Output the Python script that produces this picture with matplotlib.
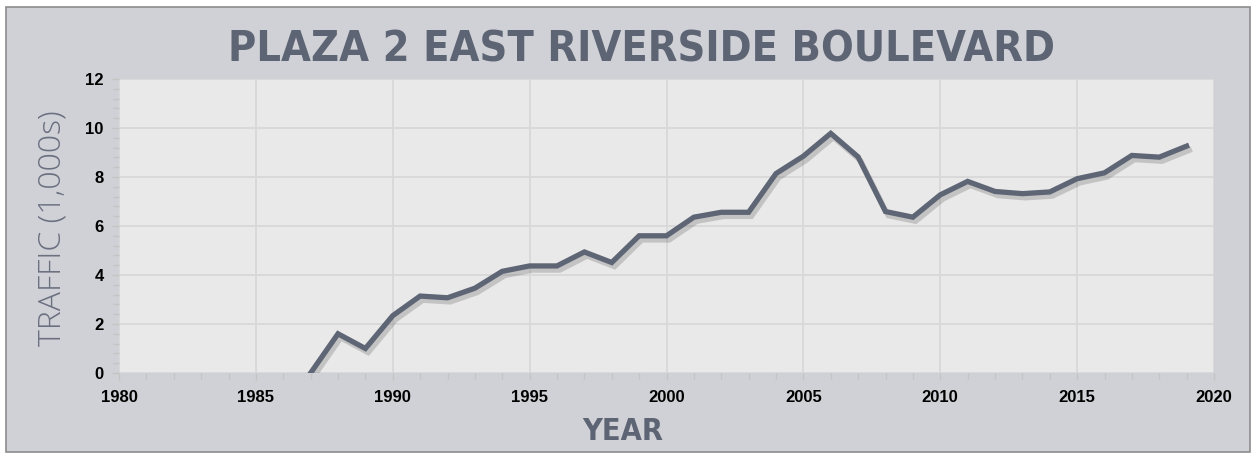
import matplotlib
matplotlib.use("Agg")
import matplotlib.pyplot as plt
import matplotlib.patheffects as pe
from matplotlib.patches import Rectangle
from matplotlib.ticker import MultipleLocator

years = list(range(1987, 2020))
traffic = [0.0, 1.6, 1.0, 2.34, 3.14, 3.07, 3.46, 4.15, 4.37, 4.37, 4.94, 4.51,
           5.60, 5.60, 6.36, 6.56, 6.56, 8.14, 8.85, 9.78, 8.82, 6.59, 6.36,
           7.27, 7.82, 7.41, 7.32, 7.39, 7.93, 8.17, 8.88, 8.81, 9.26]
x_ticks = [1980, 1985, 1990, 1995, 2000, 2005, 2010, 2015, 2020]
y_ticks = [0, 2, 4, 6, 8, 10, 12]

title = "PLAZA 2 EAST RIVERSIDE BOULEVARD"
xlabel = "YEAR"
ylabel = "TRAFFIC (1,000s)"

W, H = 1252, 455
fig = plt.figure(figsize=(W / 100, H / 100), dpi=100)
fig.patch.set_facecolor("white")

# outer panel
fig.patches.append(Rectangle((6 / W, 3 / H), 1244 / W, 445 / H, transform=fig.transFigure,
                             facecolor="#d0d1d6", edgecolor="#8c8c8c", linewidth=1.2, zorder=-5))

ax = fig.add_axes([119 / W, 1 - 373 / H, (1214 - 119) / W, (373 - 79) / H])
ax.set_zorder(2)
ax.set_facecolor("#e9e9e9")
ax.set_xlim(1980, 2020)
ax.set_ylim(0, 12)

line_color = "#5e6574"
ax.plot(years, traffic, color=line_color, lw=3.8, solid_joinstyle="miter", zorder=3,
        path_effects=[pe.SimpleLineShadow(offset=(2, -3), shadow_color="#555555", alpha=0.25, rho=1),
                      pe.Normal()])

ax.set_xticks(x_ticks)
ax.set_yticks(y_ticks)
ax.xaxis.set_minor_locator(MultipleLocator(1))
ax.yaxis.set_minor_locator(MultipleLocator(0.4))
ax.grid(True, which="major", color="#d8d8d8", lw=1.3, zorder=1)
ax.set_axisbelow(True)
for s in ax.spines.values():
    s.set_visible(False)
ax.tick_params(which="both", color="#c4c4c4", width=1)
ax.tick_params(which="major", length=5)
ax.tick_params(which="minor", length=4)
ax.tick_params(axis="x", which="major", pad=7)
ax.tick_params(axis="y", which="major", pad=6)

for lab in ax.get_xticklabels() + ax.get_yticklabels():
    lab.set_fontfamily("Liberation Sans")
    lab.set_fontweight("bold")
    lab.set_fontsize(12)
    lab.set_color("black")

title_color = "#5d6473"
fig.text(641 / W, 1 - 49 / H, title, ha="center", va="center", fontsize=31,
         fontweight="bold", fontstretch="condensed", color=title_color, family="DejaVu Sans")
fig.text(623 / W, 1 - 431 / H, xlabel, ha="center", va="center", fontsize=22,
         fontweight="bold", fontstretch="condensed", color=title_color, family="DejaVu Sans")
fig.text(53 / W, 1 - 228 / H, ylabel, ha="center", va="center", fontsize=23, rotation=90,
         fontweight="light", color="#6a7080", family=["Open Sans", "DejaVu Sans"])

fig.savefig("out.png", dpi=100, facecolor=fig.get_facecolor())
